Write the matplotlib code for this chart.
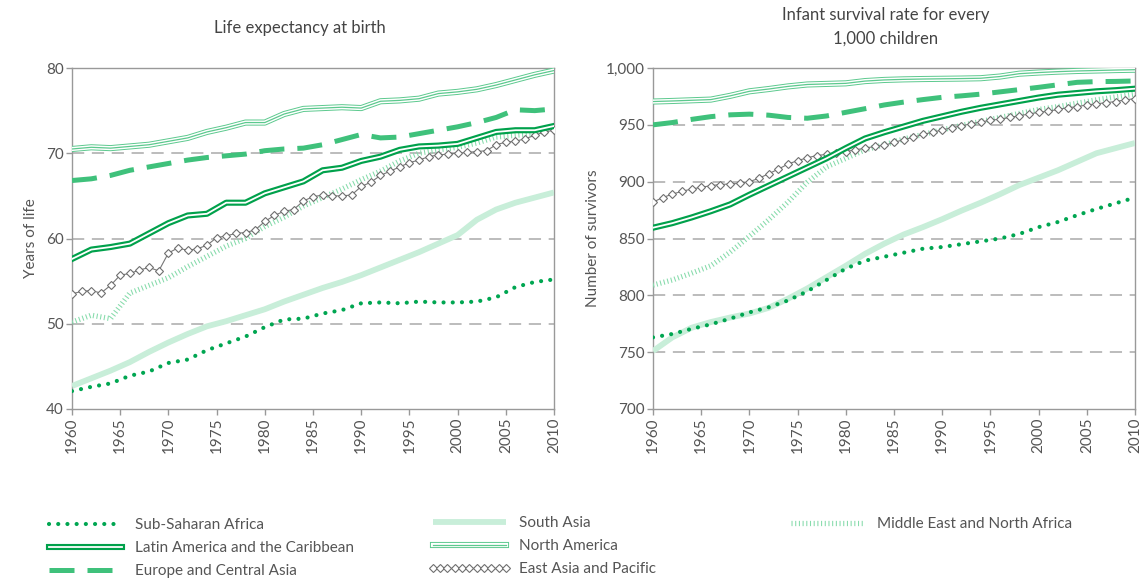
import matplotlib
matplotlib.use('Agg')
import matplotlib.pyplot as plt
import matplotlib.patheffects as pe
from matplotlib.lines import Line2D
from matplotlib.ticker import FuncFormatter

plt.rcParams['font.family'] = ['Lato', 'DejaVu Sans']

# ---- data ----
years = list(range(1960, 2011, 2))
years_all = list(range(1960, 2011))

# life expectancy at birth (years)
life_ssa = [42.1, 42.6, 43.0, 43.9, 44.4, 45.4, 45.8, 46.9, 47.7, 48.5, 49.6, 50.5, 50.6,
            51.2, 51.6, 52.4, 52.5, 52.4, 52.6, 52.5, 52.5, 52.6, 53.1, 54.3, 54.9, 55.2]
life_latin = [57.6, 58.7, 59.0, 59.4, 60.6, 61.8, 62.7, 62.9, 64.2, 64.2, 65.3, 66.0, 66.7,
              68.0, 68.3, 69.1, 69.6, 70.4, 70.8, 70.9, 71.1, 71.8, 72.5, 72.7, 72.7, 73.2]
life_europe = [66.8, 67.0, 67.4, 68.0, 68.4, 68.8, 69.2, 69.5, 69.7, 69.9, 70.3, 70.5, 70.6,
               71.0, 71.6, 72.2, 71.8, 71.9, 72.3, 72.7, 73.1, 73.6, 74.2, 75.1, 75.0, 75.2]
life_south_asia = [42.7, 43.6, 44.5, 45.5, 46.7, 47.8, 48.8, 49.7, 50.3, 51.0, 51.7, 52.6, 53.4,
                   54.2, 54.9, 55.7, 56.6, 57.5, 58.4, 59.4, 60.4, 62.2, 63.4, 64.2, 64.8, 65.4]
life_north_am = [70.5, 70.7, 70.6, 70.8, 71.0, 71.4, 71.8, 72.5, 73.0, 73.6, 73.6, 74.6, 75.2,
                 75.3, 75.4, 75.3, 76.1, 76.2, 76.4, 77.0, 77.2, 77.5, 78.0, 78.6, 79.2, 79.7]
life_mena = [50.2, 51.0, 50.6, 53.6, 54.5, 55.4, 56.7, 57.9, 59.1, 60.0, 61.4, 62.5, 63.8,
             64.8, 65.8, 66.9, 67.9, 69.1, 70.0, 70.4, 70.7, 71.2, 71.9, 72.1, 72.3, 72.9]
life_east_asia = [53.5, 53.8, 53.9, 53.6, 54.5, 55.7, 55.9, 56.3, 56.6, 56.2, 58.3, 58.9, 58.6,
                  58.8, 59.2, 60.1, 60.3, 60.6, 60.7, 61.0, 62.0, 62.7, 63.2, 63.4, 64.4, 64.9,
                  65.1, 65.0, 65.0, 65.1, 66.1, 66.6, 67.4, 67.9, 68.4, 68.9, 69.2, 69.6, 69.8,
                  69.9, 70.0, 70.1, 70.2, 70.3, 71.0, 71.3, 71.4, 71.7, 72.1, 72.5, 72.7]

# infant survivors per 1,000 children
surv_ssa = [763.0, 766.0, 770.5, 774.5, 779.5, 785.0, 789.5, 795.5, 803.5, 813.5, 823.5, 830.5, 834.0,
            837.5, 841.0, 842.5, 845.0, 847.5, 850.0, 854.0, 860.0, 864.5, 870.5, 876.0, 881.0, 886.0]
surv_latin = [859.5, 863.5, 868.5, 874.0, 880.0, 888.5, 896.5, 904.5, 912.5, 920.5, 929.5, 938.0, 943.5,
              948.5, 953.5, 957.5, 961.5, 965.0, 968.0, 971.0, 974.0, 976.5, 978.0, 979.5, 980.5, 981.8]
surv_europe = [950.0, 952.0, 954.8, 957.2, 958.8, 959.4, 958.5, 956.5, 955.8, 957.8, 961.0, 964.2, 967.5,
               970.0, 972.2, 974.2, 975.5, 977.0, 979.0, 981.0, 983.0, 985.2, 987.4, 988.0, 988.2, 988.6]
surv_south_asia = [751.0, 763.0, 771.5, 776.5, 780.5, 784.0, 789.0, 797.0, 806.0, 816.0, 826.0, 836.5, 845.5,
                   853.5, 860.0, 867.0, 874.5, 881.5, 889.0, 897.0, 903.5, 910.0, 917.5, 925.0, 929.5, 934.0]
surv_north_am = [970.5, 971.0, 971.6, 972.2, 975.5, 979.5, 981.5, 983.8, 985.5, 986.0, 986.5, 988.5, 989.5,
                 990.0, 990.3, 990.5, 990.7, 991.0, 992.5, 995.0, 996.0, 996.8, 997.4, 997.8, 998.2, 998.5]
surv_mena = [809.0, 813.5, 819.5, 826.0, 838.0, 852.0, 866.5, 882.0, 899.5, 913.0, 920.5, 928.0, 932.5,
             937.5, 941.5, 945.5, 949.5, 953.0, 956.5, 960.0, 963.5, 966.0, 969.0, 972.0, 974.5, 977.0]
surv_east_asia = [882, 886, 889, 891.5, 893.5, 895, 896.5, 897.5, 898, 898.5, 900, 903, 907, 911, 915.5,
                  918.5, 921, 923, 924, 925.5, 926.5, 928, 929.5, 931, 932, 934.5, 937, 939, 941.5,
                  943.5, 945.5, 947.5, 949, 951, 952.5, 954, 955, 956.5, 958, 959.5, 961, 962, 963.5,
                  965, 966, 967.5, 968.5, 969.5, 970.5, 972, 973]

labels = {
    'ssa': 'Sub-Saharan Africa',
    'latin': 'Latin America and the Caribbean',
    'europe': 'Europe and Central Asia',
    'south_asia': 'South Asia',
    'north_am': 'North America',
    'east_asia': 'East Asia and Pacific',
    'mena': 'Middle East and North Africa',
}

# ---- styles ----
GRAY = '#999999'
TEXT = '#555555'
C_DOT = '#00a651'
C_LATIN = '#00a14b'
C_EUROPE = '#3fc17b'
C_SOUTH = '#c8eed9'
C_NORTH = '#5cc98e'
C_MENA = '#86dbab'

styles = {
    'ssa': dict(color=C_DOT, lw=3.0, linestyle=(0, (0.01, 2.2)), dash_capstyle='round'),
    'latin': dict(color=C_LATIN, lw=4.4,
                  path_effects=[pe.Stroke(linewidth=4.4, foreground=C_LATIN),
                                pe.Stroke(linewidth=1.3, foreground='white')]),
    'europe': dict(color=C_EUROPE, lw=3.6, linestyle=(0, (5, 2.6)), dash_capstyle='butt'),
    'south_asia': dict(color=C_SOUTH, lw=4.2, solid_capstyle='butt'),
    'north_am': dict(color=C_NORTH, lw=4.4,
                     path_effects=[pe.Stroke(linewidth=4.4, foreground=C_NORTH),
                                   pe.Stroke(linewidth=3.0, foreground='white'),
                                   pe.Stroke(linewidth=0.9, foreground=C_NORTH)]),
    'east_asia': dict(color='#777777', lw=0.8, marker='D', markersize=3.7,
                      markerfacecolor='white', markeredgecolor='#6f6f6f', markeredgewidth=0.8),
    'mena': dict(color=C_MENA, lw=3.8, linestyle=(0, (0.2, 0.5)), dash_capstyle='butt'),
}

draw_order = ['south_asia', 'ssa', 'mena', 'east_asia', 'latin', 'europe', 'north_am']

fig = plt.figure(figsize=(11.42, 5.83), dpi=100)
W, H = 1142, 583


def make_axes(x0, x1, y0, y1):
    return fig.add_axes([x0 / W, 1 - y1 / H, (x1 - x0) / W, (y1 - y0) / H])


def style_axes(ax, ymin, ymax, ystep):
    ax.set_xlim(1960, 2010)
    ax.set_ylim(ymin, ymax)
    ax.set_xticks(range(1960, 2011, 5))
    ax.set_yticks(range(ymin, ymax + 1, ystep))
    for sp in ax.spines.values():
        sp.set_color(GRAY)
        sp.set_linewidth(1.0)
    ax.tick_params(direction='out', length=4, width=1, color=GRAY, labelcolor=TEXT,
                   labelsize=11, pad=2)
    ax.tick_params(axis='x', labelrotation=90)
    for v in range(ymin + ystep, ymax, ystep):
        ax.axhline(v, color='#aaaaaa', lw=1.1, linestyle=(0, (8, 5)), zorder=1)


def plot_panel(ax, data):
    for key in draw_order:
        x = years_all if key == 'east_asia' else years
        ax.plot(x, data[key], zorder=3, **styles[key])


# left panel
ax1 = make_axes(72, 554, 68, 409)
style_axes(ax1, 40, 80, 10)
plot_panel(ax1, {'ssa': life_ssa, 'latin': life_latin, 'europe': life_europe,
                 'south_asia': life_south_asia, 'north_am': life_north_am,
                 'mena': life_mena, 'east_asia': life_east_asia})
ax1.set_ylabel('Years of life', color=TEXT, fontsize=11, labelpad=6)

# right panel
ax2 = make_axes(653, 1135, 68, 409)
style_axes(ax2, 700, 1000, 50)
plot_panel(ax2, {'ssa': surv_ssa, 'latin': surv_latin, 'europe': surv_europe,
                 'south_asia': surv_south_asia, 'north_am': surv_north_am,
                 'mena': surv_mena, 'east_asia': surv_east_asia})
ax2.yaxis.set_major_formatter(FuncFormatter(lambda v, p: f'{v:,.0f}'))
ax2.set_ylabel('Number of survivors', color=TEXT, fontsize=11, labelpad=4)

# titles
fig.text(300 / W, 1 - 28 / H, 'Life expectancy at birth', ha='center', va='center',
         color='#444444', fontsize=12)
fig.text(886 / W, 1 - 27 / H, 'Infant survival rate for every\n1,000 children', ha='center',
         va='center', color='#444444', fontsize=12, linespacing=1.6)

# legend, three columns
columns = [(['ssa', 'latin', 'europe'], 44, 518),
           (['south_asia', 'north_am', 'east_asia'], 428, 516),
           (['mena'], 786, 517)]
for keys, lx, ly in columns:
    handles = [Line2D([], [], **styles[k]) for k in keys]
    fig.legend(handles, [labels[k] for k in keys], loc='upper left',
               bbox_to_anchor=(lx / W, 1 - ly / H), frameon=False, fontsize=11,
               handlelength=5.4, handletextpad=0.55, labelspacing=0.6, borderpad=0,
               borderaxespad=0, numpoints=11, labelcolor=TEXT)

fig.savefig('out.png', dpi=100)
